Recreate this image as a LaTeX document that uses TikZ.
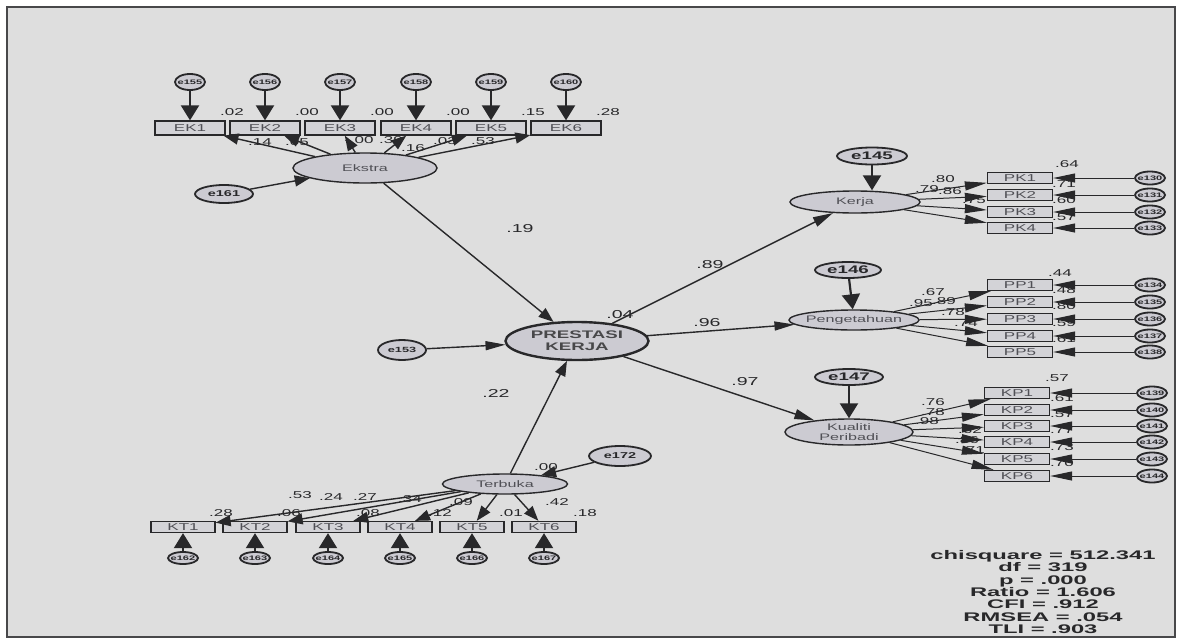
\documentclass[tikz,border=0pt]{standalone}
\usepackage{fontspec}
\setmainfont{Liberation Sans}[FakeStretch=1.7]
\newfontfamily\statfont{Liberation Sans}[FakeStretch=1.9]
\usetikzlibrary{arrows.meta, shapes.geometric}
\definecolor{paper}{RGB}{222,222,222}
\definecolor{latfill}{RGB}{204,203,210}
\definecolor{ink}{RGB}{40,40,42}
\definecolor{soft}{RGB}{80,80,86}

\begin{document}
\begin{tikzpicture}[
    x=1pt, y=-1pt,
    latbase/.style={ellipse, draw=ink, line width=1.4pt, fill=latfill, inner sep=0pt},
    latent/.style={latbase, label={[lattxt]center:{#1}}},
    lattxt/.style={font=\fontsize{9.5}{10}\selectfont, text=soft, align=center, inner sep=0pt},
    ind/.style={rectangle, draw=ink, line width=1.3pt, fill=latfill!60!paper,
                minimum width=70pt, minimum height=14pt, inner sep=0pt,
                font=\fontsize{10}{10}\selectfont, text=soft},
    err/.style={ellipse, draw=ink, line width=1.8pt, fill=latfill, inner sep=0pt,
                minimum width=30pt, minimum height=14pt, label={[errtxt]center:{#1}}},
    errtxt/.style={font=\fontsize{6.5}{6.5}\selectfont\bfseries, text=ink, inner sep=0pt},
    coef/.style={font=\fontsize{10}{10}\selectfont, text=ink, inner sep=0pt},
    path/.style={font=\fontsize{11.5}{11.5}\selectfont, text=ink, inner sep=0pt},
    arr/.style={-{Triangle[length=15pt, width=11pt]}, line width=1.4pt, draw=ink},
    varr/.style={-{Triangle[length=15pt, width=18pt]}, line width=2.2pt, draw=ink},
    harr/.style={-{Triangle[length=22pt, width=9pt]}, line width=1pt, draw=ink},
]
    % Frame
    \useasboundingbox (0,0) rectangle (1181,643);
    \fill[white] (0,0) rectangle (1181,643);
    \draw[ink!85, line width=1.3pt, fill=paper] (7,7) rectangle (1175,637);

    % Ekstra
    \node[latent=Ekstra, minimum width=144pt, minimum height=30pt] (ekstra) at (365,168) {};
    \node[err={\fontsize{8.5}{8.5}\selectfont e161}, minimum width=58pt, minimum height=18pt] (e161) at (224,194) {};
    \foreach \n/\x/\e/\r in {1/190/155/.02, 2/265/156/.00, 3/340/157/.00,
                             4/416/158/.00, 5/491/159/.15, 6/566/160/.28}{
        \node[ind] (ek\n) at (\x,128) {EK\n};
        \node[err=e\e, minimum height=16pt] (e\e) at (\x,82) {};
        \node[coef] (rek\n) at (\x+42,112) {\r};
    }
    \node[coef] (lek1) at (260,142) {.14};
    \node[coef] (lek2) at (297,142) {.05};
    \node[coef] (lek3) at (359,140) {-.00};
    \node[coef] (lek4) at (391,140) {.39};
    \node[coef] (lek5) at (413,148) {.16};
    \node[coef] (lek6) at (445,141) {.03};
    \node[coef] (lek7) at (483,141) {.53};

    % Prestasi kerja
    \node[latbase, line width=2.4pt, minimum width=143pt, minimum height=38pt,
          label={[lattxt, text=ink!85, font=\bfseries\fontsize{11}{12}\selectfont]center:{PRESTASI\\KERJA}}]
          (prestasi) at (577,341) {};
    \node[err={\fontsize{7.5}{7.5}\selectfont e153}, minimum width=48pt, minimum height=20pt] (e153) at (402,350) {};

    % Kerja
    \node[latent=Kerja, minimum width=130pt, minimum height=22pt] (kerja) at (855,202) {};
    \node[err={\fontsize{11}{11}\selectfont e145}, minimum width=70pt, minimum height=17pt] (e145) at (872,156) {};
    \foreach \n/\y/\e in {1/178/130, 2/195/131, 3/212/132, 4/228/133}{
        \node[ind, minimum width=65pt, minimum height=11pt] (pk\n) at (1020,\y) {PK\n};
        \node[err=e\e, minimum height=13pt] (e\e) at (1150,\y) {};
    }
    \node[coef] (rpk1) at (1067,164) {.64};
    \node[coef] (rpk2) at (1064,184) {.71};
    \node[coef] (rpk3) at (1064,200) {.60};
    \node[coef] (rpk4) at (1064,217) {.57};
    \node[coef] (lpk1) at (943,179) {.80};
    \node[coef] (lpk2) at (927,189) {.79};
    \node[coef] (lpk3) at (950,191) {.86};
    \node[coef] (lpk4) at (974,200) {.75};

    % Pengetahuan
    \node[latent=Pengetahuan, minimum width=130pt, minimum height=20pt] (peng) at (854,320) {};
    \node[err={\fontsize{11}{11}\selectfont e146}, minimum width=66pt, minimum height=16pt] (e146) at (848,270) {};
    \foreach \n/\y/\e in {1/285/134, 2/302/135, 3/319/136, 4/336/137, 5/352/138}{
        \node[ind, minimum width=65pt, minimum height=11pt] (pp\n) at (1020,\y) {PP\n};
        \node[err=e\e, minimum height=13pt] (e\e) at (1150,\y) {};
    }
    \node[coef] (rpp1) at (1060,273) {.44};
    \node[coef] (rpp2) at (1064,290) {.48};
    \node[coef] (rpp3) at (1064,306) {.80};
    \node[coef] (rpp4) at (1064,323) {.59};
    \node[coef] (rpp5) at (1064,339) {.61};
    \node[coef] (lpp1) at (933,292) {.67};
    \node[coef] (lpp2) at (921,303) {.95};
    \node[coef] (lpp3) at (944,301) {.89};
    \node[coef] (lpp4) at (953,312) {.78};
    \node[coef] (lpp5) at (966,323) {.74};

    % Kualiti peribadi
    \node[latent={Kualiti\\Peribadi}, minimum width=128pt, minimum height=26pt] (kual) at (849,432) {};
    \node[err={\fontsize{11}{11}\selectfont e147}, minimum width=68pt, minimum height=16pt] (e147) at (849,377) {};
    \foreach \n/\y/\e in {1/393/139, 2/410/140, 3/426/141, 4/442/142, 5/459/143, 6/476/144}{
        \node[ind, minimum width=65pt, minimum height=11pt] (kp\n) at (1017,\y) {KP\n};
        \node[err=e\e, minimum height=13pt] (e\e) at (1152,\y) {};
    }
    \node[coef] (rkp1) at (1057,378) {.57};
    \node[coef] (rkp2) at (1062,398) {.61};
    \node[coef] (rkp3) at (1062,414) {.57};
    \node[coef] (rkp4) at (1062,430) {.77};
    \node[coef] (rkp5) at (1062,447) {.73};
    \node[coef] (rkp6) at (1062,463) {.70};
    \node[coef] (lkp1) at (933,402) {.76};
    \node[coef] (lkp2) at (933,412) {.78};
    \node[coef] (lkp3) at (927,421) {.98};
    \node[coef] (lkp4) at (970,430) {.62};
    \node[coef] (lkp5) at (967,440) {.86};
    \node[coef] (lkp6) at (973,450) {.71};

    % Terbuka
    \node[latent=Terbuka, minimum width=125pt, minimum height=20pt] (terbuka) at (505,484) {};
    \node[err={\fontsize{8.5}{8.5}\selectfont e172}, minimum width=62pt, minimum height=20pt] (e172) at (620,456) {};
    \foreach \n/\x/\e in {1/183/162, 2/255/163, 3/328/164, 4/400/165, 5/472/166, 6/544/167}{
        \node[ind, minimum width=64pt, minimum height=11pt] (kt\n) at (\x,527) {KT\n};
        \node[err=e\e, minimum height=12pt] (e\e) at (\x,558) {};
    }
    \node[coef] (lkt1) at (300,495) {.53};
    \node[coef] (lkt2) at (331,497) {.24};
    \node[coef] (lkt3) at (365,497) {.27};
    \node[coef] (lkt4) at (410,499) {.34};
    \node[coef] (lkt5) at (461,502) {.09};
    \node[coef] (lkt6) at (557,502) {.42};
    \node[coef] (rkt1) at (221,513) {.28};
    \node[coef] (rkt2) at (289,513) {.06};
    \node[coef] (rkt3) at (368,513) {.08};
    \node[coef] (rkt4) at (440,513) {.12};
    \node[coef] (rkt5) at (511,513) {.01};
    \node[coef] (rkt6) at (585,513) {.18};
    \node[coef] (rterb) at (546,467) {.00};

    % Structural paths
    \node[path] (p19) at (520,229) {.19};
    \node[path] (p22) at (496,393) {.22};
    \node[path] (p04) at (620,315) {.04};
    \node[path] (p89) at (710,265) {.89};
    \node[path] (p96) at (707,323) {.96};
    \node[path] (p97) at (745,382) {.97};

    % Connections
    \draw[arr] (e161) -- (ekstra);
    \draw[arr] (ekstra) -- (prestasi);
    \draw[arr] (terbuka) -- (prestasi);
    \draw[arr, -{Triangle[length=20pt, width=9pt]}] (e153) -- (prestasi);
    \draw[arr] (e172) -- (terbuka);
    \draw[arr, -{Triangle[length=20pt, width=10pt]}] (prestasi) -- (kerja);
    \draw[arr, -{Triangle[length=20pt, width=9pt]}] (prestasi) -- (peng);
    \draw[arr, -{Triangle[length=20pt, width=10pt]}] (prestasi) -- (kual);
    \draw[varr] (e145) -- (e145 |- kerja.north);
    \draw[varr] (e146) -- (peng);
    \draw[varr] (e147) -- (kual);
    \foreach \n/\e in {1/155, 2/156, 3/157, 4/158, 5/159, 6/160}{
        \draw[varr] (e\e) -- (ek\n);
        \draw[arr] (ekstra) -- (ek\n);
    }
    \foreach \n/\e in {1/130, 2/131, 3/132, 4/133}{
        \draw[harr] (kerja) -- (pk\n);
        \draw[harr] (e\e) -- (pk\n);
    }
    \foreach \n/\e in {1/134, 2/135, 3/136, 4/137, 5/138}{
        \draw[harr] (peng) -- (pp\n);
        \draw[harr] (e\e) -- (pp\n);
    }
    \foreach \n/\e in {1/139, 2/140, 3/141, 4/142, 5/143, 6/144}{
        \draw[harr] (kual) -- (kp\n);
        \draw[harr] (e\e) -- (kp\n);
    }
    \foreach \n/\e in {1/162, 2/163, 3/164, 4/165, 5/166, 6/167}{
        \draw[arr] (terbuka) -- (kt\n);
        \draw[varr, line width=2pt] (e\e) -- (kt\n);
    }

    % Fit indices
    \node[font=\statfont\bfseries\fontsize{12.5}{12.3}\selectfont, text=ink, align=center, inner sep=0pt]
        (fit) at (1043,592) {chisquare = 512.341\\df = 319\\p = .000\\Ratio = 1.606\\CFI = .912\\RMSEA = .054\\TLI = .903};
\end{tikzpicture}
\end{document}
